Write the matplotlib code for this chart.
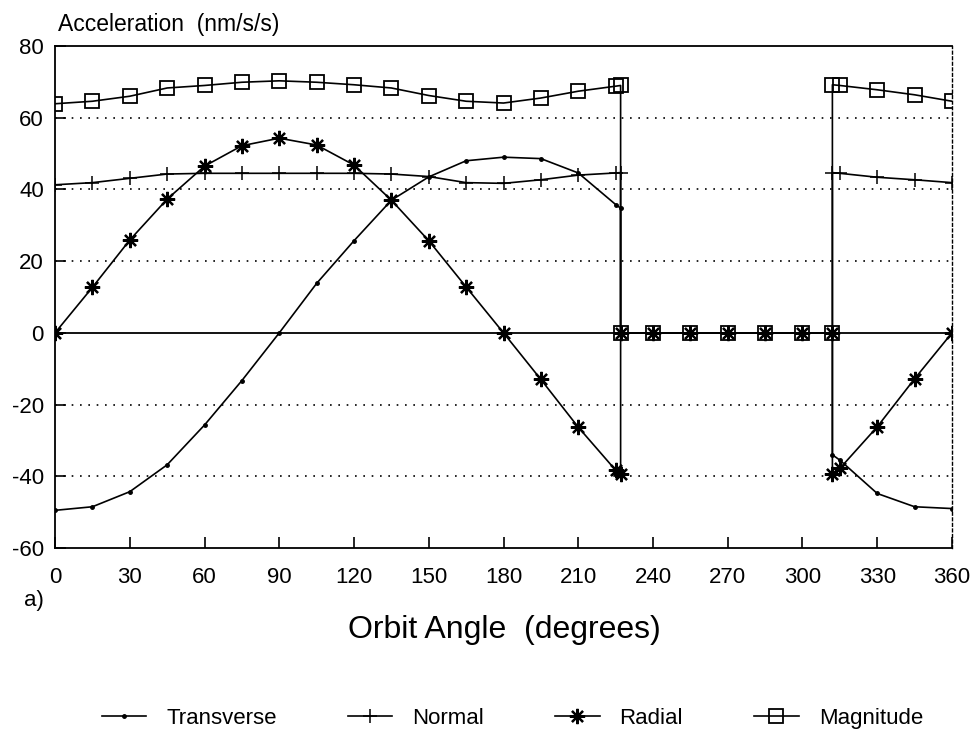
import matplotlib
matplotlib.use("Agg")
import matplotlib.pyplot as plt

plt.rcParams['font.family'] = ['Liberation Sans', 'DejaVu Sans']
plt.rcParams['axes.unicode_minus'] = False

# orbit angle (degrees); eclipse entry ~227, exit ~312
angle = [0, 15, 30, 45, 60, 75, 90, 105, 120, 135, 150, 165, 180, 195, 210, 225, 227,
         227, 240, 255, 270, 285, 300, 312,
         312, 315, 330, 345, 360]

transverse = [-49.5, -48.5, -44.3, -36.8, -25.7, -13.3, 0.0, 13.8, 25.7, 37.0, 43.5, 48.0, 49.0, 48.6, 44.6, 35.8, 34.8,
              0, 0, 0, 0, 0, 0, 0,
              -34.0, -35.5, -44.8, -48.5, -49.0]
normal = [41.3, 41.9, 43.1, 44.3, 44.5, 44.5, 44.5, 44.5, 44.5, 44.3, 43.6, 41.9, 41.7, 42.7, 44.0, 44.6, 44.7,
          0, 0, 0, 0, 0, 0, 0,
          44.7, 44.5, 43.4, 42.7, 41.9]
radial = [0.0, 12.7, 25.9, 37.3, 46.5, 52.2, 54.3, 52.4, 46.8, 37.0, 25.7, 12.8, 0.0, -13.0, -26.3, -38.3, -39.4,
          0, 0, 0, 0, 0, 0, 0,
          -39.5, -37.8, -26.2, -12.8, 0.0]
magnitude = [63.9, 64.6, 66.0, 68.3, 69.0, 69.9, 70.3, 69.9, 69.2, 68.3, 66.2, 64.6, 64.1, 65.5, 67.4, 68.8, 69.0,
             0, 0, 0, 0, 0, 0, 0,
             69.2, 69.0, 67.8, 66.4, 64.6]

x_ticks = [0, 30, 60, 90, 120, 150, 180, 210, 240, 270, 300, 330, 360]
y_ticks = [-60, -40, -20, 0, 20, 40, 60, 80]
grid_levels = [-40, -20, 20, 40, 60]

fig = plt.figure(figsize=(9.74, 7.33), dpi=100)
ax = fig.add_axes([0.0565, 0.2524, 0.9209, 0.6848])

for g in grid_levels:
    ax.axhline(g, color='black', linestyle=(0, (1, 4)), linewidth=1.2, zorder=1)
ax.axhline(0, color='black', linewidth=1.3, zorder=1)

ax.plot(angle, transverse, color='black', linewidth=1.2, marker='o', markersize=2.5,
        label='Transverse', zorder=3)
ax.plot(angle, normal, color='black', linewidth=1.2, marker='+', markersize=10,
        markeredgewidth=1.1, label='Normal', zorder=3)
ax.plot(angle, radial, color='black', linewidth=1.2, marker=(8, 2, 0), markersize=11,
        markeredgewidth=1.6, label='Radial', zorder=3)
ax.plot(angle, magnitude, color='black', linewidth=1.2, marker='s', markersize=10,
        markerfacecolor='none', markeredgewidth=1.3, label='Magnitude', zorder=3)

ax.set_xlim(0, 360)
ax.set_ylim(-60, 80)
ax.set_xticks(x_ticks)
ax.set_yticks(y_ticks)
ax.tick_params(direction='in', length=8, width=1.2, labelsize=16, top=False, right=False)
ax.tick_params(axis='x', pad=14)
ax.tick_params(axis='y', pad=8)
for side in ['left', 'bottom', 'top']:
    ax.spines[side].set_linewidth(1.3)
ax.spines['right'].set_linestyle((0, (2, 2)))
ax.spines['right'].set_linewidth(1.0)

fig.text(0.06, 0.966, 'Acceleration  (nm/s/s)', fontsize=16.5, va='center', ha='left')
fig.text(0.518, 0.14, 'Orbit Angle  (degrees)', fontsize=23, va='center', ha='center')
fig.text(0.025, 0.181, 'a)', fontsize=16, va='center', ha='left')

fig.legend(loc='center', bbox_to_anchor=(0.526, 0.02), ncol=4, frameon=False,
           fontsize=16, handlelength=2.0, columnspacing=3.2, handletextpad=0.9)

fig.savefig('out.png', dpi=100)
